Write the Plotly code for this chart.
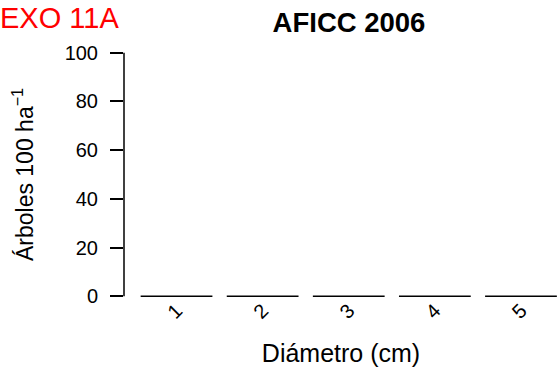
import plotly.graph_objects as go

# Datos: clases diamétricas y número de árboles (todas en cero)
clases = ["1", "2", "3", "4", "5"]
arboles = [0, 0, 0, 0, 0]
y_ticks = [0, 20, 40, 60, 80, 100]

titulo = "AFICC 2006"
etiqueta = "EXO 11A"
eje_x = "Diámetro (cm)"
eje_y = "Árboles 100 ha<sup>−1</sup>"

fuente = "Liberation Sans, Arial, sans-serif"

fig = go.Figure()
fig.add_trace(go.Bar(
    x=clases, y=arboles,
    marker=dict(color="rgba(0,0,0,0)", line=dict(color="black", width=1.3)),
    showlegend=False,
))

fig.update_layout(
    width=558, height=376,
    margin=dict(l=124, r=0, t=42.5, b=69.5),
    paper_bgcolor="white", plot_bgcolor="white",
    font=dict(family=fuente, color="black", size=20),
    bargap=0.1667,
    title=dict(text="<b>" + titulo + "</b>", x=349 / 558, xanchor="center",
               y=1 - 22 / 376, yanchor="middle", font=dict(size=27.5)),
)

fig.update_xaxes(
    type="category", range=[-0.61, 4.43],
    showline=False, showgrid=False, zeroline=False, ticks="",
    tickangle=-45, tickfont=dict(size=20), ticklabelstandoff=-12,
    title=dict(text=eje_x, font=dict(size=25), standoff=22),
)
fig.update_yaxes(
    range=[-4, 104], tickvals=y_ticks,
    showline=False, showgrid=False, zeroline=False,
    ticks="outside", ticklen=13, tickwidth=1.5, tickcolor="black",
    tickfont=dict(size=20), ticklabelstandoff=8,
    title=dict(text=eje_y, font=dict(size=23), standoff=24),
)

# línea del eje y solo entre 0 y 100 (estilo R)
fig.add_shape(type="line", xref="paper", x0=0, x1=0, yref="y",
              y0=min(y_ticks), y1=max(y_ticks),
              line=dict(color="black", width=1.5))

fig.add_annotation(text=etiqueta, xref="paper", yref="paper",
                   x=-124 / 434, y=1 + (42.5 - 17) / 264, xanchor="left", yanchor="middle",
                   xshift=-2, showarrow=False, font=dict(size=29, color="red"))

fig.write_html("out.html", config={"displayModeBar": False},
               post_script="document.body.style.margin='0px';")
